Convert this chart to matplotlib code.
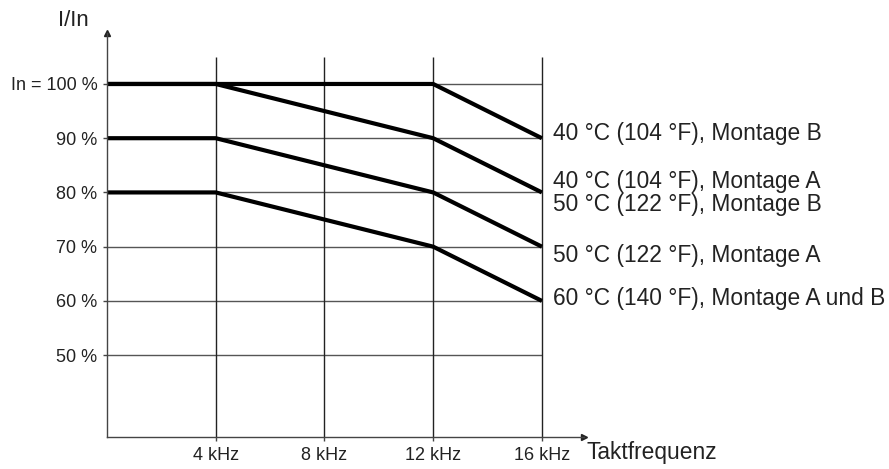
import matplotlib.pyplot as plt

plt.rcParams['font.family'] = ['Liberation Sans', 'DejaVu Sans']

# derating curves: current ratio I/In (%) over switching frequency (kHz)
freq_khz = [0, 4, 12, 16]
curve_40b = [100, 100, 100, 90]
curve_40a_50b = [100, 100, 90, 80]
curve_50a = [90, 90, 80, 70]
curve_60 = [80, 80, 70, 60]

curve_labels = [
    "40 °C (104 °F), Montage B",
    "40 °C (104 °F), Montage A\n50 °C (122 °F), Montage B",
    "50 °C (122 °F), Montage A",
    "60 °C (140 °F), Montage A und B",
]

y_ticks = [50, 60, 70, 80, 90, 100]
y_ticklabels = ["50 %", "60 %", "70 %", "80 %", "90 %", "In = 100 %"]
x_ticks = [4, 8, 12, 16]
x_ticklabels = ["4 kHz", "8 kHz", "12 kHz", "16 kHz"]

fig = plt.figure(figsize=(8.89, 4.69), dpi=100)
ax = fig.add_axes([107 / 889, 32 / 469, 477 / 889, 404 / 469])
ax.set_xlim(0, 17.55)
ax.set_ylim(34.9, 109.4)

for s in ['top', 'right']:
    ax.spines[s].set_visible(False)
for s in ['left', 'bottom']:
    ax.spines[s].set_color('#444444')
    ax.spines[s].set_linewidth(1.0)

# arrow heads on the axes
ax.plot(1, 0, '>', color='#222222', ms=4, transform=ax.transAxes, clip_on=False)
ax.plot(0, 1, '^', color='#222222', ms=4, transform=ax.transAxes, clip_on=False)

# grid
ax.hlines(y_ticks, 0, 16, color='#555555', lw=1.0)
ax.vlines(x_ticks, 34.9, 105, color='#222222', lw=1.0)

ax.set_yticks(y_ticks)
ax.set_yticklabels(y_ticklabels, fontsize=13, color='#222222')
ax.set_xticks(x_ticks)
ax.set_xticklabels(x_ticklabels, fontsize=13, color='#222222')
ax.tick_params(direction='out', length=3, width=1.0, color='#444444', pad=4)

curves = [curve_40b, curve_40a_50b, curve_50a, curve_60]
label_shift = [4.5, -1, -9, 2]  # vertical nudge in pixels
for vals, lab, dy in zip(curves, curve_labels, label_shift):
    ax.plot(freq_khz, vals, color='black', lw=3.0, solid_capstyle='butt',
            solid_joinstyle='round', clip_on=False)
    ax.annotate(lab, (freq_khz[-1], vals[-1]), xytext=(8, dy * 0.72),
                textcoords='offset points', ha='left', va='center',
                fontsize=16.4, color='#222222', linespacing=1.0)

fig.text(73 / 889, 1 - 20 / 469, "I/In", fontsize=16, ha='center', va='center',
         color='#222222')
ax.annotate("Taktfrequenz", (1, 0), xycoords='axes fraction', xytext=(2, -15.5),
            textcoords='offset points', ha='left', va='baseline', fontsize=16.4,
            color='#222222')

fig.savefig("out.png", dpi=100)
